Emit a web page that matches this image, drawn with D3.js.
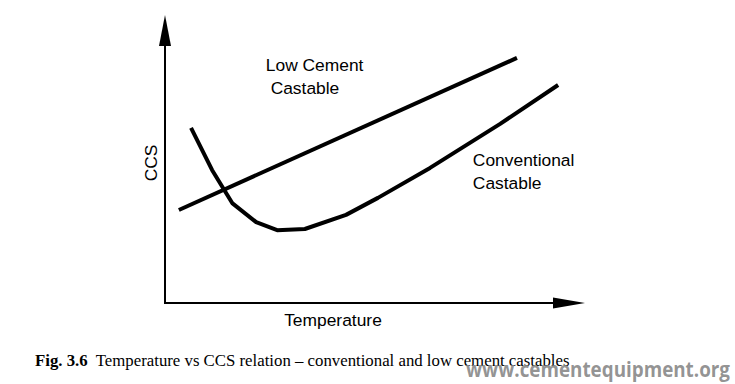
<!DOCTYPE html>
<html>
<head>
<meta charset="utf-8">
<script src="https://cdn.jsdelivr.net/npm/d3@7/dist/d3.min.js"></script>
<style>
  html, body { margin:0; padding:0; background:#fff; }
  svg { display:block; }
</style>
</head>
<body>
<div id="chart"></div>
<script>
// Temperature / CCS values (relative units 0-100)
const lowCementTemp = [3.3, 83.8];
const lowCementCCS  = [32.3, 85.1];

const conventionalTemp = [6.2, 11.2, 16.0, 21.7, 26.7, 33.3, 43.1, 50.7, 63.1, 79.8, 93.6];
const conventionalCCS  = [60.8, 46.2, 34.7, 28.1, 25.3, 25.7, 30.6, 36.5, 46.9, 62.2, 75.7];

const seriesLabels = [
  { lines: ["Low Cement", " Castable"], t: 24, c: 80.5 },
  { lines: ["Conventional", "Castable"], t: 73.3, c: 47.5 }
];

const width = 735, height = 384;

const svg = d3.select("#chart")
  .append("svg")
  .attr("width", width)
  .attr("height", height);

const x = d3.scaleLinear().domain([0, 100]).range([165, 585]);
const y = d3.scaleLinear().domain([0, 100]).range([303, 15]);

// axes as plain arrows, no ticks
const axisG = svg.append("g");

axisG.append("line")
  .attr("x1", x(0)).attr("x2", x(100) - 20)
  .attr("y1", y(0)).attr("y2", y(0))
  .attr("stroke", "#000").attr("stroke-width", 2);

axisG.append("line")
  .attr("x1", x(0)).attr("x2", x(0))
  .attr("y1", y(0) + 1).attr("y2", y(100) + 20)
  .attr("stroke", "#000").attr("stroke-width", 2);

// arrow heads
axisG.append("path")
  .attr("d", `M${x(100)},${y(0)} L${x(100) - 32},${y(0) - 5.5} L${x(100) - 32},${y(0) + 5.5} Z`)
  .attr("fill", "#000");

axisG.append("path")
  .attr("d", `M${x(0)},${y(100)} L${x(0) - 6},${y(100) + 31} L${x(0) + 6},${y(100) + 31} Z`)
  .attr("fill", "#000");

const line = d3.line()
  .x(d => x(d[0]))
  .y(d => y(d[1]));

svg.append("path")
  .datum(d3.zip(lowCementTemp, lowCementCCS))
  .attr("d", line)
  .attr("fill", "none")
  .attr("stroke", "#000")
  .attr("stroke-width", 4);

svg.append("path")
  .datum(d3.zip(conventionalTemp, conventionalCCS))
  .attr("d", line)
  .attr("fill", "none")
  .attr("stroke", "#000")
  .attr("stroke-width", 4)
  .attr("stroke-linejoin", "round");

// series labels
seriesLabels.forEach(s => {
  const t = svg.append("text")
    .attr("x", x(s.t))
    .attr("y", y(s.c))
    .attr("font-family", "Liberation Sans, Arial, sans-serif")
    .attr("font-size", 17.4)
    .attr("fill", "#000")
    .attr("xml:space", "preserve");
  s.lines.forEach((l, i) => {
    t.append("tspan")
      .attr("x", x(s.t))
      .attr("dy", i === 0 ? 0 : 22.5)
      .text(l);
  });
});

// axis titles
svg.append("text")
  .attr("x", 333)
  .attr("y", 326)
  .attr("text-anchor", "middle")
  .attr("font-family", "Liberation Sans, Arial, sans-serif")
  .attr("font-size", 17.4)
  .text("Temperature");

svg.append("text")
  .attr("transform", "translate(157,163) rotate(-90)")
  .attr("text-anchor", "middle")
  .attr("font-family", "Liberation Sans, Arial, sans-serif")
  .attr("font-size", 17.4)
  .text("CCS");

// caption
const cap = svg.append("text")
  .attr("x", 35)
  .attr("y", 366)
  .attr("font-family", "Liberation Serif, Times New Roman, serif")
  .attr("font-size", 16.8)
  .attr("fill", "#000")
  .attr("xml:space", "preserve");
cap.append("tspan").attr("font-weight", "bold").text("Fig. 3.6");
cap.append("tspan").text("  Temperature vs CCS relation – conventional and low cement castables");

// watermark
svg.append("text")
  .attr("x", 466)
  .attr("y", 377)
  .attr("font-family", "Open Sans, DejaVu Sans, sans-serif")
  .attr("font-weight", "bold")
  .attr("font-size", 21)
  .attr("fill", "#8a8a8a")
  .attr("fill-opacity", 0.92)
  .attr("textLength", 264)
  .attr("lengthAdjust", "spacingAndGlyphs")
  .text("www.cementequipment.org");
</script>
</body>
</html>
